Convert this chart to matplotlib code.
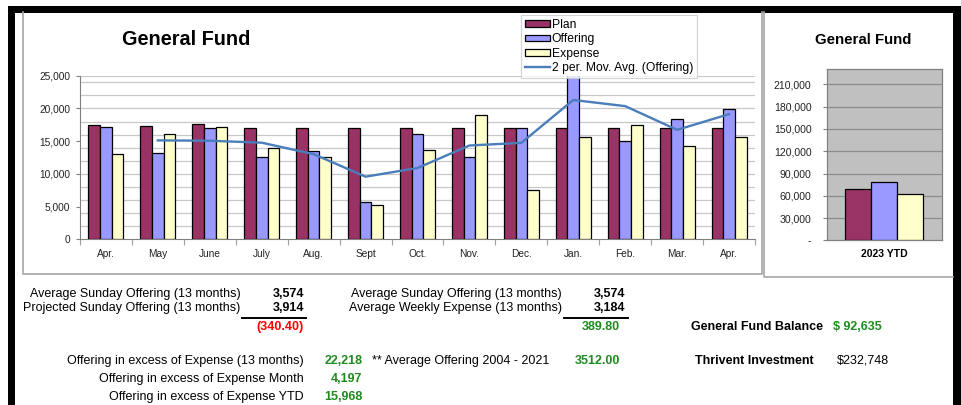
import matplotlib
matplotlib.use("Agg")
import matplotlib.pyplot as plt
from matplotlib.patches import Rectangle, Patch
from matplotlib.lines import Line2D
import numpy as np

plt.rcParams['font.family'] = ['Liberation Sans', 'DejaVu Sans']

# ---------------- data ----------------
months = ["Apr.", "May", "June", "July", "Aug.", "Sept", "Oct.", "Nov.", "Dec.", "Jan.", "Feb.", "Mar.", "Apr."]
plan = [17450, 17360, 17650, 17000, 17000, 17000, 17000, 17000, 17000, 17000, 17000, 17000, 17000]
offering = [17115, 13120, 17000, 12530, 13490, 5650, 16140, 12530, 16950, 25630, 15070, 18380, 19870]
expense = [13080, 16080, 17115, 13900, 12580, 5290, 13700, 18950, 7580, 15680, 17420, 14260, 15670]
series_names = ["Plan", "Offering", "Expense"]
ma_name = "2 per. Mov. Avg. (Offering)"

ytd_label = ["2023 YTD"]
ytd_plan = [68800]
ytd_offering = [79000]
ytd_expense = [62900]

main_yticks = [0, 5000, 10000, 15000, 20000, 25000]
main_ytick_labels = ["0", "5,000", "10,000", "15,000", "20,000", "25,000"]
ytd_yticks = [0, 30000, 60000, 90000, 120000, 150000, 180000, 210000]
ytd_ytick_labels = ["-", "30,000", "60,000", "90,000", "120,000", "150,000", "180,000", "210,000"]

summary_left = [("Average Sunday Offering (13 months)", "3,574"),
                ("Projected Sunday Offering (13 months)", "3,914")]
summary_left_result = "(340.40)"
summary_mid = [("Average Sunday Offering (13 months)", "3,574"),
               ("Average Weekly Expense (13 months)", "3,184")]
summary_mid_result = "389.80"
excess_rows = [("Offering in excess of Expense (13 months)", "22,218"),
               ("Offering in excess of Expense Month", "4,197"),
               ("Offering in excess of Expense YTD", "15,968")]
avg_hist = ("** Average Offering 2004 - 2021", "3512.00")
balance = ("General Fund Balance", "$ 92,635")
thrivent = ("Thrivent Investment", "$232,748")

# ---------------- style ----------------
C_PLAN = "#993366"
C_OFF = "#9999FF"
C_EXP = "#FFFFCC"
C_LINE = "#4A7EBB"
GREEN = "#1F8A1F"
RED = "#FF0000"

W, H = 961, 405
fig = plt.figure(figsize=(W / 100, H / 100), dpi=100)
fig.patch.set_facecolor("white")


def ax_px(l, t, r, b, **kw):
    return fig.add_axes([l / W, 1 - b / H, (r - l) / W, (b - t) / H], **kw)


def fx(x):
    return x / W


def fy(y):
    return 1 - y / H


# overlay for frames
over = ax_px(0, 0, W, H, zorder=0)
over.set_xlim(0, W)
over.set_ylim(H, 0)
over.axis("off")
# chart frames (gray)
over.plot([23, 23, 761.5, 761.5], [12, 273.5, 273.5, 12], color="#A6A6A6", lw=1.2)
over.plot([764, 764, 953], [12, 276.7, 276.7], color="#A6A6A6", lw=1.2)
# black border
over.add_patch(Rectangle((8, 6), W - 8, 6.5, color="black", lw=0))
over.add_patch(Rectangle((8, 6), 7, H - 6, color="black", lw=0))
over.add_patch(Rectangle((953, 6), W - 953, H - 6, color="black", lw=0))
# underlines
over.plot([242, 306], [318.3, 318.3], color="black", lw=1.4)
over.plot([564, 627.7], [318.3, 318.3], color="black", lw=1.4)

# ---------------- main chart ----------------
ax = ax_px(80, 75.7, 755, 239.3, zorder=2)
x = np.arange(len(months))
bw = 0.225
ax.bar(x - bw, plan, bw, color=C_PLAN, edgecolor="black", lw=0.9, zorder=3)
ax.bar(x, offering, bw, color=C_OFF, edgecolor="black", lw=0.9, zorder=3)
ax.bar(x + bw, expense, bw, color=C_EXP, edgecolor="black", lw=0.9, zorder=3)
off = np.array(offering, dtype=float)
ma = (off[1:] + off[:-1]) / 2
ax.plot(x[1:], ma, color=C_LINE, lw=1.7, zorder=4, solid_joinstyle="miter")

ax.set_xlim(-0.5, len(months) - 0.5)
ax.set_ylim(0, 25000)
ax.set_yticks(main_yticks)
ax.set_yticklabels(main_ytick_labels, fontsize=7.3, color="#222222")
for g in list(np.arange(2000, 25000, 2000)) + [25000]:
    ax.axhline(g, color="#C8C8C8", lw=0.9, zorder=1)
ax.tick_params(axis="y", which="major", length=3, width=0.8, color="#808080", pad=4)
ax.set_xticks(x)
ax.set_xticklabels(months, fontsize=7.3, color="#222222")
ax.set_xticks(np.arange(-0.5, len(months), 1), minor=True)
ax.tick_params(axis="x", which="major", length=0, pad=7)
ax.tick_params(axis="x", which="minor", length=4, width=0.8, color="#A0A0A0")
for s in ["top", "right"]:
    ax.spines[s].set_visible(False)
ax.spines["left"].set_color("#808080")
ax.spines["bottom"].set_color("#808080")
ax.set_facecolor("white")

fig.text(fx(186), fy(45), "General Fund", fontsize=14.3, fontweight="bold",
         ha="center", va="baseline")

handles = [Patch(facecolor=C_PLAN, edgecolor="black", lw=0.9),
           Patch(facecolor=C_OFF, edgecolor="black", lw=0.9),
           Patch(facecolor=C_EXP, edgecolor="black", lw=0.9),
           Line2D([0], [0], color=C_LINE, lw=1.7)]
leg = fig.legend(handles, series_names + [ma_name], loc="upper left",
                 bbox_to_anchor=(fx(520.7), fy(15)), fontsize=8.7,
                 frameon=True, fancybox=False, shadow=False,
                 handlelength=2.1, handleheight=0.5, handletextpad=0.15,
                 labelspacing=0.2, borderpad=0.32, borderaxespad=0)
leg.get_frame().set_edgecolor("#C8C8C8")
leg.get_frame().set_linewidth(0.8)
leg.set_zorder(10)

# ---------------- YTD chart ----------------
ax2 = ax_px(826.7, 69.3, 941.7, 240.5, zorder=2)
ax2.set_facecolor("#C0C0C0")
x2 = np.arange(len(ytd_label))
ax2.bar(x2 - bw, ytd_plan, bw, color=C_PLAN, edgecolor="black", lw=0.9, zorder=3)
ax2.bar(x2, ytd_offering, bw, color=C_OFF, edgecolor="black", lw=0.9, zorder=3)
ax2.bar(x2 + bw, ytd_expense, bw, color=C_EXP, edgecolor="black", lw=0.9, zorder=3)
ax2.set_xlim(-0.5, 0.5)
ax2.set_ylim(0, 230000)
ax2.set_yticks(ytd_yticks)
ax2.set_yticklabels(ytd_ytick_labels, fontsize=7.6, color="#222222")
for g in ytd_yticks[1:]:
    ax2.axhline(g, color="#8C8C8C", lw=0.9, zorder=1)
ax2.set_xticks(x2)
ax2.set_xticklabels(ytd_label, fontsize=7.5, fontweight="bold")
ax2.tick_params(axis="x", length=0, pad=6)
ax2.tick_params(axis="y", length=3, width=0.8, color="#808080", pad=8)
for s in ax2.spines.values():
    s.set_color("#808080")
    s.set_linewidth(0.9)

fig.text(fx(863.5), fy(44.3), "General Fund", fontsize=10.8, fontweight="bold",
         ha="center", va="baseline")

# ---------------- summary text ----------------
FS = 9.0
row_y = [294, 308.3, 327.3, 360.7, 379, 396.7]

for i, (lab, val) in enumerate(summary_left):
    fig.text(fx(240.5), fy(row_y[i]), lab, fontsize=FS, ha="right", va="center")
    fig.text(fx(304), fy(row_y[i]), val, fontsize=FS, ha="right", va="center", fontweight="bold")
fig.text(fx(303.5), fy(row_y[2]), summary_left_result, fontsize=FS, ha="right", va="center",
         fontweight="bold", color=RED)

for i, (lab, val) in enumerate(summary_mid):
    fig.text(fx(561.7), fy(row_y[i]), lab, fontsize=FS, ha="right", va="center")
    fig.text(fx(625.7), fy(row_y[i]), val, fontsize=FS, ha="right", va="center", fontweight="bold")
fig.text(fx(620), fy(row_y[2]), summary_mid_result, fontsize=FS, ha="right", va="center",
         fontweight="bold", color=GREEN)

for i, (lab, val) in enumerate(excess_rows):
    fig.text(fx(304), fy(row_y[3 + i]), lab, fontsize=FS, ha="right", va="center")
    fig.text(fx(362.3), fy(row_y[3 + i]), val, fontsize=FS, ha="right", va="center",
             fontweight="bold", color=GREEN)

fig.text(fx(372.3), fy(row_y[3]), avg_hist[0], fontsize=FS, ha="left", va="center")
fig.text(fx(620), fy(row_y[3]), avg_hist[1], fontsize=FS, ha="right", va="center",
         fontweight="bold", color=GREEN)

fig.text(fx(691), fy(row_y[2]), balance[0], fontsize=FS, ha="left", va="center", fontweight="bold")
fig.text(fx(833), fy(row_y[2]), balance[1], fontsize=FS, ha="left", va="center",
         fontweight="bold", color=GREEN)
fig.text(fx(695), fy(row_y[3]), thrivent[0], fontsize=FS, ha="left", va="center", fontweight="bold")
fig.text(fx(836.7), fy(row_y[3]), thrivent[1], fontsize=FS, ha="left", va="center")

fig.savefig("out.png", dpi=100)
